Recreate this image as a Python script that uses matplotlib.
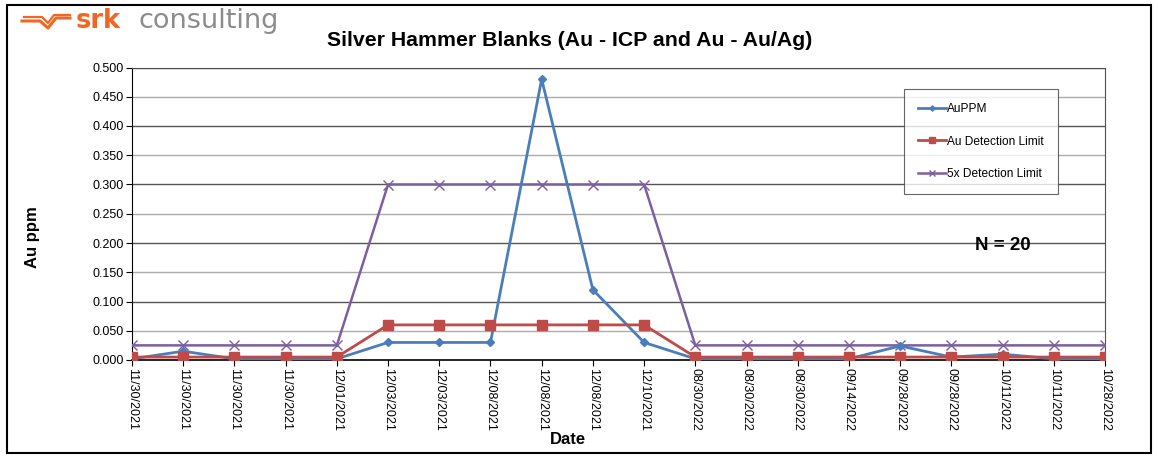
import matplotlib
matplotlib.use("Agg")
import matplotlib.pyplot as plt
from matplotlib.patches import Rectangle
from matplotlib.lines import Line2D
import numpy as np

plt.rcParams['font.family'] = ['Liberation Sans', 'DejaVu Sans']

dates = ["11/30/2021", "11/30/2021", "11/30/2021", "11/30/2021", "12/01/2021",
         "12/03/2021", "12/03/2021", "12/08/2021", "12/08/2021", "12/08/2021",
         "12/10/2021", "08/30/2022", "08/30/2022", "08/30/2022", "09/14/2022",
         "09/28/2022", "09/28/2022", "10/11/2022", "10/11/2022", "10/28/2022"]
au_ppm = [0.002, 0.015, 0.002, 0.002, 0.002, 0.030, 0.030, 0.030, 0.480, 0.120,
          0.030, 0.002, 0.002, 0.002, 0.002, 0.024, 0.005, 0.010, 0.002, 0.002]
det_limit = [0.005, 0.005, 0.005, 0.005, 0.005, 0.06, 0.06, 0.06, 0.06, 0.06,
             0.06, 0.005, 0.005, 0.005, 0.005, 0.005, 0.005, 0.005, 0.005, 0.005]
det5x = [0.025, 0.025, 0.025, 0.025, 0.025, 0.3, 0.3, 0.3, 0.3, 0.3,
         0.3, 0.025, 0.025, 0.025, 0.025, 0.025, 0.025, 0.025, 0.025, 0.025]

W, H = 1158, 457
fig = plt.figure(figsize=(W / 100, H / 100), dpi=100)
ax = fig.add_axes([132 / W, 1 - 360 / H, (1105 - 132) / W, (360 - 67.5) / H])

x = np.arange(len(dates))
blue = '#4A7EBB'
red = '#BE4B48'
purple = '#7D5FA0'

ax.plot(x, det5x, color=purple, lw=1.8, marker='x', ms=7, mew=1.0,
        label='5x Detection Limit', zorder=3)
ax.plot(x, au_ppm, color=blue, lw=2.0, marker='D', ms=4.5,
        label='AuPPM', zorder=4)
ax.plot(x, det_limit, color=red, lw=2.0, marker='s', ms=7.5,
        label='Au Detection Limit', zorder=5)

ax.set_xlim(0, len(dates) - 1)
ax.set_ylim(0, 0.5)
yt = np.arange(0, 0.501, 0.05)
ax.set_yticks(yt)
ax.set_yticklabels([f"{v:.3f}" for v in yt], fontsize=9)
ax.set_xticks(x)
ax.set_xticklabels(dates, rotation=270, fontsize=9, va='top', ha='center')
ax.tick_params(axis='both', direction='out', length=4, width=0.8, pad=2)
for yv in yt[1:]:
    k = int(round(yv / 0.05))
    ax.axhline(yv, color='#555555' if k % 2 == 0 else '#ABABAB', lw=1.0, zorder=1)
for s in ['top', 'right']:
    ax.spines[s].set_color('#505050')
ax.spines['left'].set_color('black')
ax.spines['bottom'].set_color('black')
ax.spines['bottom'].set_linewidth(1.2)

ax.set_ylabel('Au ppm', fontsize=12, fontweight='bold')
ax.yaxis.set_label_coords(-0.095, 0.42)
fig.text(568 / W, 1 - 440 / H, 'Date', fontsize=12, fontweight='bold',
         ha='center', va='center')

fig.text(570 / W, 1 - 41 / H, 'Silver Hammer Blanks (Au - ICP and Au - Au/Ag)',
         fontsize=15.3, fontweight='bold', ha='center', va='center')

fig.text(1003 / W, 1 - 245 / H, 'N = 20', fontsize=13.5, fontweight='bold',
         ha='center', va='center')

# legend
handles, labels = ax.get_legend_handles_labels()
order = [1, 2, 0]
leg = ax.legend([handles[i] for i in order], [labels[i] for i in order],
                loc='upper left',
                bbox_to_anchor=((904 - 132) / (1105 - 132), (360 - 89) / (360 - 67.5)),
                fontsize=8.6, frameon=True, fancybox=False, edgecolor='#404040',
                handlelength=2.3, handletextpad=0.1, labelspacing=1.7,
                borderpad=1.2, markerscale=0.6, borderaxespad=0)
leg.get_frame().set_linewidth(0.8)
leg._legend_box.align = 'left'

# figure border
fig.patches.append(Rectangle((7 / W, 1 - 453 / H), (1151 - 7) / W, (453 - 5) / H,
                             transform=fig.transFigure, fill=False,
                             edgecolor='black', lw=1.5))

# logo
orange = '#F26522'
lx = lambda px: px / W
ly = lambda py: 1 - py / H
fig.add_artist(Line2D([lx(22), lx(40), lx(48), lx(56), lx(70)],
                      [ly(21), ly(21), ly(28), ly(18), ly(18)],
                      color=orange, lw=2.2, transform=fig.transFigure))
fig.add_artist(Line2D([lx(24), lx(42), lx(48), lx(54), lx(70)],
                      [ly(17), ly(17), ly(23), ly(15), ly(15)],
                      color=orange, lw=1.6, transform=fig.transFigure))
fig.text(lx(76), ly(21), 'srk', fontsize=18.5, fontweight='bold', color=orange,
         ha='left', va='center', family='DejaVu Sans')
fig.text(lx(139), ly(21), 'consulting', fontsize=19.5, color='#8C8C8C',
         ha='left', va='center', family='DejaVu Sans')

fig.savefig('out.png', dpi=100)
